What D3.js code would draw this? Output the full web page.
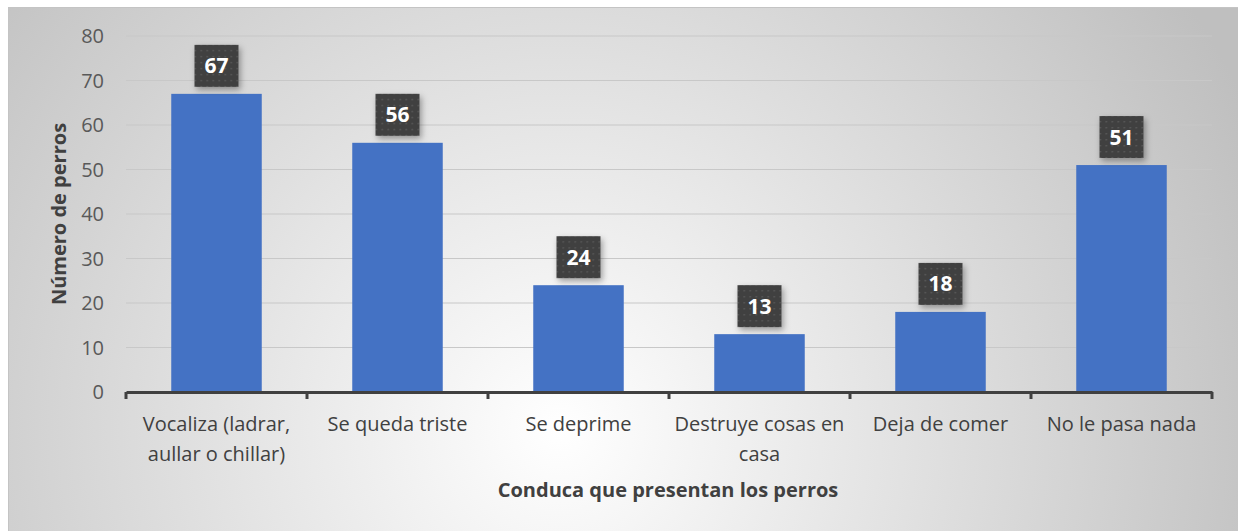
<!DOCTYPE html>
<html>
<head>
<meta charset="utf-8">
<script src="https://cdn.jsdelivr.net/npm/d3@7"></script>
<style>
  body { margin: 0; background: #fff; }
  svg { display: block; font-family: "Open Sans", "Noto Sans", sans-serif; }
</style>
</head>
<body>
<div id="chart"></div>
<script>
// Conducta de los perros - bar chart

const categories = [
    ["Vocaliza (ladrar,", "aullar o chillar)"],
    ["Se queda triste"],
    ["Se deprime"],
    ["Destruye cosas en", "casa"],
    ["Deja de comer"],
    ["No le pasa nada"]
];
const values = [67, 56, 24, 13, 18, 51];
const yTicks = [0, 10, 20, 30, 40, 50, 60, 70, 80];

const width = 1238, height = 531;
const margin = {left: 126, right: 26, top: 36, bottom: 139};

const svg = d3.select("#chart").append("svg")
    .attr("width", width)
    .attr("height", height);

const defs = svg.append("defs");

const bg = defs.append("radialGradient")
    .attr("id", "bg")
    .attr("gradientUnits", "userSpaceOnUse")
    .attr("cx", 560).attr("cy", 430).attr("r", 760);
bg.append("stop").attr("offset", "0%").attr("stop-color", "#ffffff");
bg.append("stop").attr("offset", "100%").attr("stop-color", "#bfbfbf");

const dots = defs.append("pattern")
    .attr("id", "dots")
    .attr("patternUnits", "userSpaceOnUse")
    .attr("width", 6).attr("height", 6);
dots.append("rect").attr("width", 6).attr("height", 6).attr("fill", "#404040");
dots.append("rect").attr("x", 2).attr("y", 2).attr("width", 1.4).attr("height", 1.4).attr("fill", "#5e5e5e");

const shadow = defs.append("filter").attr("id", "shadow")
    .attr("x", "-30%").attr("y", "-30%").attr("width", "170%").attr("height", "170%");
shadow.append("feDropShadow")
    .attr("dx", 2).attr("dy", 3).attr("stdDeviation", 3)
    .attr("flood-color", "#000").attr("flood-opacity", 0.35);

svg.append("rect")
    .attr("x", 8.5).attr("y", 7.5)
    .attr("width", width - 8).attr("height", height - 7)
    .attr("fill", "url(#bg)")
    .attr("stroke", "#c4c4c4");

const x = d3.scaleBand()
    .domain(d3.range(categories.length))
    .range([margin.left, width - margin.right])
    .paddingInner(0.5).paddingOuter(0.25);

const y = d3.scaleLinear()
    .domain([0, 80])
    .range([height - margin.bottom, margin.top]);

// gridlines
svg.append("g")
    .selectAll("line")
    .data(yTicks.slice(1))
    .join("line")
    .attr("x1", margin.left).attr("x2", width - margin.right)
    .attr("y1", d => y(d)).attr("y2", d => y(d))
    .attr("stroke", "#c8c8c8").attr("stroke-width", 1.2);

// y tick labels
svg.append("g")
    .selectAll("text")
    .data(yTicks)
    .join("text")
    .attr("x", 104)
    .attr("y", d => y(d))
    .attr("dy", "0.35em")
    .attr("text-anchor", "end")
    .attr("font-size", 20)
    .attr("fill", "#595959")
    .text(d => d);

// bars
svg.append("g")
    .selectAll("rect")
    .data(values)
    .join("rect")
    .attr("x", (d, i) => x(i))
    .attr("y", d => y(d))
    .attr("width", x.bandwidth())
    .attr("height", d => y(0) - y(d))
    .attr("fill", "#4472c4");

// x axis
const xAxis = d3.axisBottom(x)
    .tickValues([])
    .tickSizeOuter(0);
svg.append("g")
    .attr("transform", `translate(0,${y(0)})`)
    .call(xAxis)
    .call(g => g.select(".domain").attr("stroke", "#404040").attr("stroke-width", 3));

const step = x.step();
const boundaries = d3.range(categories.length + 1).map(i => margin.left + i * step);
svg.append("g")
    .selectAll("line")
    .data(boundaries)
    .join("line")
    .attr("x1", d => d).attr("x2", d => d)
    .attr("y1", y(0)).attr("y2", y(0) + 7)
    .attr("stroke", "#404040").attr("stroke-width", 3);

// category labels
const catG = svg.append("g")
    .selectAll("text")
    .data(categories)
    .join("text")
    .attr("x", (d, i) => x(i) + x.bandwidth() / 2)
    .attr("y", 431)
    .attr("text-anchor", "middle")
    .attr("font-size", 20)
    .attr("fill", "#404040");
catG.selectAll("tspan")
    .data(d => d)
    .join("tspan")
    .attr("x", function() { return this.parentNode.getAttribute("x"); })
    .attr("dy", (d, j) => j === 0 ? 0 : 30)
    .text(d => d);

// data labels
const lab = svg.append("g")
    .selectAll("g")
    .data(values)
    .join("g")
    .attr("transform", (d, i) => `translate(${x(i) + x.bandwidth() / 2},${y(d) - 28})`);
lab.append("rect")
    .attr("x", -22).attr("y", -21)
    .attr("width", 44).attr("height", 42)
    .attr("fill", "url(#dots)")
    .attr("filter", "url(#shadow)");
lab.append("text")
    .attr("text-anchor", "middle")
    .attr("dy", "0.36em")
    .attr("font-size", 21)
    .attr("font-weight", "bold")
    .attr("fill", "#fff")
    .text(d => d);

// axis titles
svg.append("text")
    .attr("x", 668).attr("y", 497)
    .attr("text-anchor", "middle")
    .attr("font-size", 20)
    .attr("font-weight", "bold")
    .attr("fill", "#404040")
    .text("Conduca que presentan los perros");

svg.append("text")
    .attr("transform", `translate(66,${(y(0) + y(80)) / 2}) rotate(-90)`)
    .attr("text-anchor", "middle")
    .attr("font-size", 20)
    .attr("font-weight", "bold")
    .attr("fill", "#404040")
    .text("Número de perros");
</script>
</body>
</html>
